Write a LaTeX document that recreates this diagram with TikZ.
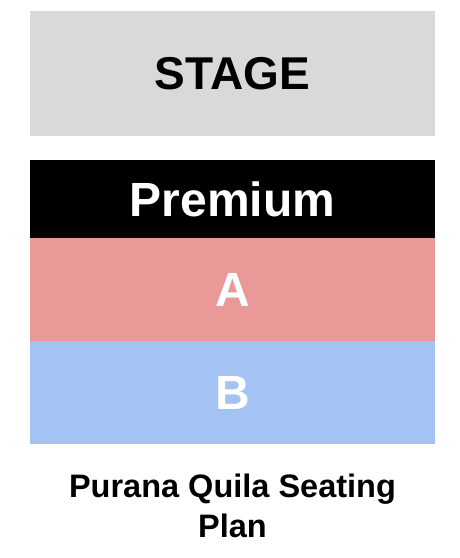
\documentclass[tikz,border=0pt]{standalone}
\usepackage{fontspec}
\setmainfont{Liberation Sans}
\definecolor{stagegray}{HTML}{D9D9D9}
\definecolor{zonea}{HTML}{EA9999}
\definecolor{zoneb}{HTML}{A4C2F4}
\begin{document}
\begin{tikzpicture}[x=1pt, y=-1pt,
    % Styles des zones
    zone/.style={rectangle, minimum width=405pt, inner sep=0pt, outer sep=0pt,
                 font=\bfseries\fontsize{48}{56}\selectfont},
    stagebox/.style={zone, fill=stagegray, text=black, minimum height=125pt,
                     font=\bfseries\fontsize{46}{56}\selectfont},
    premium/.style={zone, fill=black, text=white, minimum height=78pt},
    seata/.style={zone, fill=zonea, text=white, minimum height=103pt},
    seatb/.style={zone, fill=zoneb, text=white, minimum height=103pt},
    % Style du titre
    titre/.style={font=\bfseries\fontsize{32.5}{40}\selectfont, align=center, inner sep=0pt}
]
\useasboundingbox (0,0) rectangle (460,558);

% ==========================================
% SCENE
% ==========================================
\node[stagebox] (stage) at (232.5, 73.5) {STAGE};

% ==========================================
% ZONES
% ==========================================
\node[premium] (prem) at (232.5, 199) {Premium};
\node[seata] (a) at (232.5, 289.5) {A};
\node[seatb] (b) at (232.5, 392.5) {B};

% ==========================================
% TITRE
% ==========================================
\node[titre] (plan) at (232.5, 506) {Purana Quila Seating\\Plan};

\end{tikzpicture}
\end{document}
